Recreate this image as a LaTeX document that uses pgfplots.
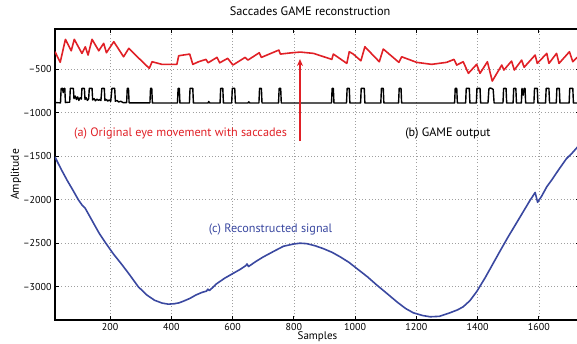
\documentclass[border=0pt]{standalone}
\usepackage{fontspec}
\setmainfont{PT Sans}
\usepackage{pgfplots}
\pgfplotsset{compat=1.18}
\usetikzlibrary{arrows.meta}
\definecolor{eyered}{RGB}{224,32,38}
\definecolor{recblue}{RGB}{58,72,160}
\begin{document}
\begin{tikzpicture}
\begin{axis}[
  at={(0,0)}, anchor=south west,
  scale only axis,
  width=525pt, height=291pt,
  xmin=20, xmax=1734.5, ymin=-3382, ymax=-40,
  xtick={200,400,600,800,1000,1200,1400,1600},
  xticklabels={200,400,600,800,1000,1200,1400,1600},
  ytick={-3000,-2500,-2000,-1500,-1000,-500},
  yticklabels={--3000,--2500,--2000,--1500,--1000,--500},
  tick label style={font=\fontsize{10}{12}\selectfont},
  tick align=inside, tick pos=both,
  major tick length=4pt,
  every tick/.style={black, line width=0.8pt},
  axis line style={line width=1.2pt},
  grid=major,
  major grid style={gray!75, line width=0.5pt, dash pattern=on 0.8pt off 2.4pt},
  title={Saccades GAME reconstruction},
  title style={at={(axis description cs:0.486,1)}, anchor=center, yshift=12pt, font=\fontsize{12.3}{14}\selectfont},
  xlabel={Samples},
  ylabel={Amplitude},
  every axis x label/.style={at={(axis description cs:0.5,0)}, anchor=north, inner sep=0pt, yshift=-11pt, font=\fontsize{11}{12}\selectfont},
  every axis y label/.style={at={(axis description cs:-0.0745,0.5)}, rotate=90, anchor=center, font=\fontsize{11.5}{13}\selectfont},
]
% (a) original eye movement
\addplot[eyered, line width=1.6pt, line join=round] coordinates {
(20,-301) (37,-423) (54,-159) (73,-290) (83,-159) (108,-320) (119,-244) (128,-339)
(141,-159) (163,-290) (179,-205) (188,-313) (212,-186) (244,-359) (261,-262)
(295,-380) (328,-492) (337,-416) (369,-446) (418,-446) (424,-347) (460,-328)
(470,-446) (489,-416) (513,-389) (520,-428) (549,-366) (558,-428) (584,-377)
(601,-454) (641,-366) (650,-397) (687,-313) (694,-366) (751,-282) (756,-328)
(794,-313) (821,-305) (864,-320) (924,-389) (929,-328) (973,-435) (981,-301)
(994,-328) (1019,-405) (1032,-244) (1079,-416) (1092,-270) (1143,-423) (1152,-359)
(1201,-423) (1250,-446) (1299,-423) (1323,-389) (1332,-454) (1353,-416) (1370,-549)
(1397,-446) (1408,-549) (1432,-416) (1448,-638) (1479,-454) (1486,-511) (1511,-408)
(1520,-511) (1544,-397) (1552,-480) (1588,-339) (1595,-435) (1626,-320) (1633,-435)
(1658,-320) (1666,-435) (1700,-301) (1711,-416) (1724,-370) (1735,-345)
};
% (b) GAME output
\addplot[black, line width=1.4pt, line join=round] coordinates {
(20,-885) (38,-888) (40,-725) (44,-720) (47,-770) (50,-722) (52,-722) (54,-885)
(68,-880) (70,-722) (80,-722) (82,-840) (86,-810) (90,-850) (94,-820) (98,-860)
(102,-830) (106,-845) (108,-722) (116,-722) (118,-850) (122,-830) (126,-860)
(130,-840) (132,-722) (141,-722) (143,-855) (148,-840) (152,-865) (157,-845)
(162,-860) (166,-850) (170,-862) (173,-722) (181,-722) (183,-860) (188,-850)
(192,-868) (197,-855) (202,-870) (206,-722) (215,-722) (217,-870) (222,-860)
(228,-878) (235,-870) (242,-885) (254,-885) (256,-722) (260,-722) (262,-888)
(330,-888) (332,-722) (336,-722) (338,-890) (420,-890) (422,-722) (426,-722)
(428,-890) (459,-890) (461,-722) (470,-722) (472,-890) (520,-890) (522,-872)
(525,-890) (559,-890) (561,-722) (568,-722) (570,-890) (597,-890) (599,-722)
(607,-722) (609,-890) (650,-890) (653,-876) (656,-890) (686,-890) (688,-722)
(694,-722) (696,-890) (750,-890) (752,-722) (757,-722) (759,-890) (923,-890)
(925,-722) (929,-722) (931,-890) (972,-890) (974,-722) (981,-722) (983,-890)
(1018,-890) (1020,-722) (1030,-722) (1032,-890) (1084,-890) (1086,-722)
(1092,-722) (1094,-890) (1142,-890) (1144,-722) (1150,-722) (1152,-890)
(1325,-890) (1327,-722) (1332,-722) (1334,-890) (1361,-890) (1363,-722)
(1373,-722) (1375,-890) (1396,-890) (1398,-722) (1408,-722) (1410,-890)
(1434,-890) (1437,-730) (1440,-718) (1446,-722) (1451,-735) (1454,-890)
(1483,-890) (1485,-722) (1493,-722) (1495,-890) (1516,-890) (1518,-722)
(1525,-722) (1527,-890) (1543,-890) (1545,-722) (1549,-800) (1552,-722)
(1555,-722) (1557,-890) (1584,-890) (1586,-722) (1595,-722) (1597,-890)
(1622,-890) (1624,-722) (1633,-722) (1635,-890) (1657,-890) (1659,-722)
(1667,-722) (1669,-890) (1699,-890) (1701,-722) (1711,-722) (1713,-890)
(1735,-890)
};
% (c) reconstructed signal
\addplot[recblue, line width=1.6pt, line join=round] coordinates {
(20,-1510) (40,-1650) (60,-1780) (80,-1900) (96,-2000) (108,-2060) (118,-2095)
(130,-2170) (145,-2265) (165,-2390) (186,-2500) (210,-2620) (235,-2730)
(260,-2845) (292,-3000) (320,-3095) (345,-3155) (370,-3188) (390,-3200)
(410,-3195) (425,-3185) (440,-3165) (461,-3133) (480,-3095) (500,-3065)
(515,-3050) (519,-3028) (524,-3045) (530,-3025) (548,-2965) (575,-2900)
(602,-2846) (625,-2800) (643,-2758) (647,-2738) (652,-2768) (675,-2712)
(700,-2658) (735,-2592) (766,-2535) (798,-2510) (820,-2500) (842,-2505)
(870,-2530) (896,-2562) (925,-2605) (951,-2656) (980,-2720) (1005,-2789)
(1040,-2885) (1071,-2981) (1105,-3080) (1136,-3172) (1165,-3250) (1190,-3299)
(1220,-3330) (1245,-3345) (1275,-3340) (1310,-3299) (1335,-3265) (1353,-3230)
(1375,-3160) (1397,-3057) (1425,-2895) (1451,-2731) (1475,-2580) (1500,-2426)
(1525,-2280) (1549,-2139) (1570,-2015) (1588,-1918) (1596,-2030) (1610,-1955)
(1626,-1852) (1645,-1760) (1664,-1660) (1690,-1530) (1710,-1460) (1734,-1365)
};
\node[text=eyered, font=\fontsize{12.2}{14}\selectfont] at (axis cs:430,-1240) {(a) Original eye movement with saccades};
\node[text=black, font=\fontsize{12.2}{14}\selectfont] at (axis cs:1303,-1238) {(b) GAME output};
\node[text=recblue, font=\fontsize{12.2}{14}\selectfont] at (axis cs:724,-2341) {(c) Reconstructed signal};
\draw[eyered, line width=1.4pt, -{Stealth[length=7pt,width=6pt]}] (axis cs:820,-1327) -- (axis cs:820,-385);
\end{axis}
\pgfresetboundingbox
\useasboundingbox (-55pt,-23pt) rectangle (522pt,320pt);
\end{tikzpicture}
\end{document}
